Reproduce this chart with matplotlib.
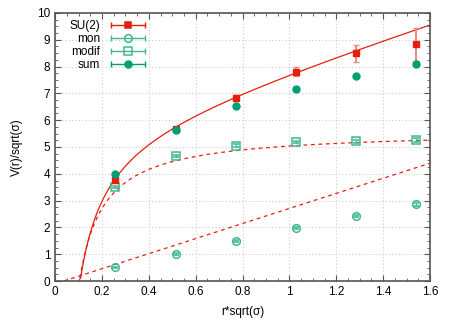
import numpy as np
import matplotlib
matplotlib.use("Agg")
import matplotlib.pyplot as plt
from matplotlib.lines import Line2D
from matplotlib.legend_handler import HandlerLine2D
from matplotlib.ticker import MultipleLocator

plt.rcParams['font.family'] = ['Liberation Sans', 'DejaVu Sans']

# data
r = [0.257, 0.514, 0.771, 1.028, 1.285, 1.542]
su2 = [3.77, 5.67, 6.84, 7.81, 8.50, 8.83]
su2_err = [0.06, 0.05, 0.08, 0.18, 0.32, 0.62]
mon = [0.51, 1.00, 1.50, 1.97, 2.44, 2.86]
mon_err = [0.03, 0.03, 0.03, 0.03, 0.04, 0.05]
modif = [3.50, 4.68, 5.05, 5.19, 5.21, 5.25]
modif_err = [0.04, 0.04, 0.05, 0.05, 0.06, 0.07]
summ = [3.98, 5.65, 6.53, 7.16, 7.65, 8.11]

# fit parameters (V = c + s*x - a/x)
fit_su2 = (5.54, 2.75, 0.624)
fit_modif = (5.62, 0.0, 0.583)
fit_mon = (-0.10, 2.81, 0.0)

red = '#e51e10'
green = '#009e73'
lgreen = '#3fb892'

fig = plt.figure(figsize=(4.59, 3.22), dpi=100)
ax = fig.add_axes([0.120, 0.127, 0.817, 0.833])

def V(x, p):
    c, s, a = p
    return c + s * x - a / x

xs = np.linspace(0.03, 1.6, 600)
y1 = V(xs, fit_su2)
ax.plot(xs[y1 >= 0], y1[y1 >= 0], color=red, lw=0.9)
y2 = V(xs, fit_modif)
ax.plot(xs[y2 >= 0], y2[y2 >= 0], color=red, lw=0.9, ls=(0, (3, 3)))
y3 = V(xs, fit_mon)
ax.plot(xs[y3 >= 0], y3[y3 >= 0], color=red, lw=0.9, ls=(0, (3, 3)))

ax.errorbar(r, su2, yerr=su2_err, fmt='s', color=red, ms=4.5, ecolor='#f08a84',
            elinewidth=1.5, capsize=2.5, capthick=1, zorder=4)
ax.errorbar(r, mon, yerr=mon_err, fmt='o', mfc='none', mec=lgreen, ms=5.5,
            mew=1.1, ecolor=lgreen, elinewidth=1, capsize=2, zorder=3)
ax.errorbar(r, modif, yerr=modif_err, fmt='s', mfc='none', mec=lgreen, ms=5.5,
            mew=1.1, ecolor=lgreen, elinewidth=1, capsize=2, zorder=3)
ax.plot(r, summ, 'o', color=green, ms=5, zorder=5)

ax.set_xlim(0, 1.6)
ax.set_ylim(0, 10)
ax.set_xticks(np.arange(0, 1.61, 0.2))
ax.set_xticklabels(['0', '0.2', '0.4', '0.6', '0.8', '1', '1.2', '1.4', '1.6'])
ax.xaxis.set_minor_locator(MultipleLocator(0.05))
ax.yaxis.set_major_locator(MultipleLocator(1))
ax.yaxis.set_minor_locator(MultipleLocator(0.25))
ax.tick_params(which='both', direction='in', top=True, right=True, colors='#555555',
               labelcolor='black', labelsize=8.5)
ax.tick_params(which='major', length=4)
ax.tick_params(which='minor', length=2)
ax.grid(True, which='major', color='#cccccc', ls=(0, (1, 2)), lw=0.8)
for s in ax.spines.values():
    s.set_color('#555555')
    s.set_linewidth(1.2)

ax.set_xlabel('r*sqrt(σ)', fontsize=8.5, labelpad=6)
ax.set_ylabel('V(r)/sqrt(σ)', fontsize=8.5, labelpad=10)

# legend with horizontal error-bar samples
def entry(color, marker, mfc, ms):
    bar = Line2D([], [], color=color, lw=1, marker='|', ms=4, mew=1)
    mk = Line2D([], [], ls='none', marker=marker, color=color, mfc=mfc, mec=color, ms=ms, mew=1.1)
    return (bar, mk), mk

h1, m1 = entry(red, 's', red, 4.5)
h2, m2 = entry(lgreen, 'o', 'none', 5.5)
h3, m3 = entry(lgreen, 's', 'none', 5.5)
h4, m4 = entry(green, 'o', green, 5)
hm = {m: HandlerLine2D(numpoints=1) for m in (m1, m2, m3, m4)}
leg = ax.legend([h1, h2, h3, h4], ['SU(2)', 'mon', 'modif', 'sum'], handler_map=hm,
                loc='upper left', frameon=False, markerfirst=False, numpoints=2,
                fontsize=8.5, handlelength=3.5, handletextpad=0.6, labelspacing=0.08,
                borderaxespad=0.2, bbox_to_anchor=(0.02, 1.0))

fig.savefig('out.png', dpi=100)
